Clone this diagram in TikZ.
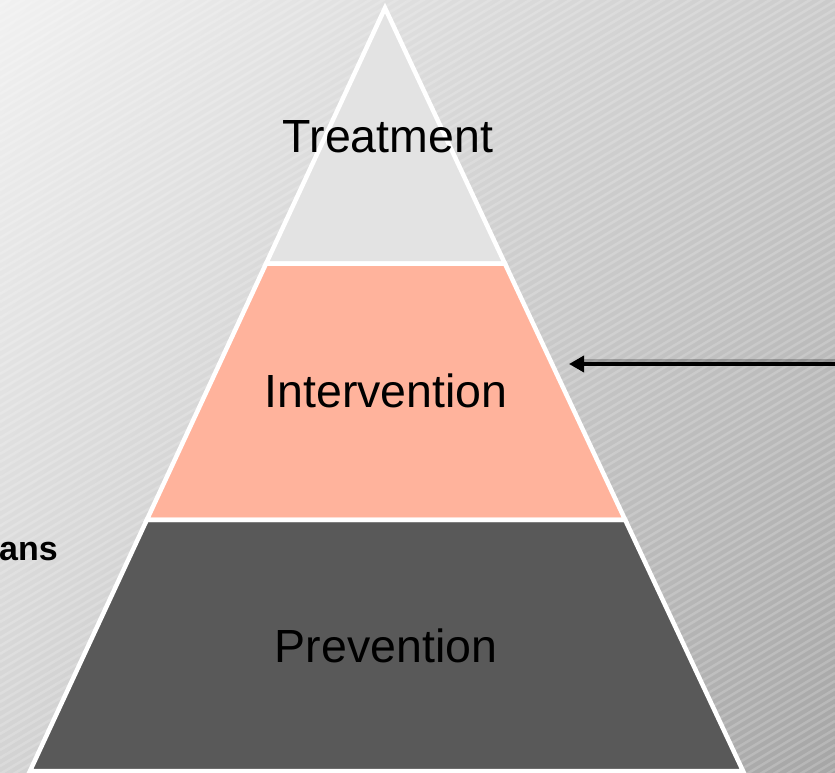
\documentclass[tikz,border=0pt]{standalone}
\usepackage{fontspec}
\setmainfont{Liberation Sans}
\usetikzlibrary{arrows.meta,shadings}
\definecolor{tiertop}{HTML}{E3E3E3}
\definecolor{tiermid}{HTML}{FFB39C}
\definecolor{tierlow}{HTML}{595959}
\definecolor{bgul}{HTML}{F1F1F1}
\definecolor{bgur}{HTML}{CBCBCB}
\definecolor{bgll}{HTML}{D3D3D3}
\definecolor{bglr}{HTML}{A6A6A6}
\tikzset{
  tier/.style={draw=white, line width=4.5pt, line join=miter},
  tierlabel/.style={font=\fontsize{46.5}{50}\selectfont, anchor=base},
  stripe/.style={white, opacity=0.18, line width=2.5pt},
  pointer/.style={black, line width=3.5pt, -{Triangle[length=15pt,width=16pt]}},
}
\begin{document}
\begin{tikzpicture}[x=1pt,y=-1pt]
\useasboundingbox (0,0) rectangle (835,773);
% background
\shade[upper left=bgul, upper right=bgur, lower left=bgll, lower right=bglr]
  (0,0) rectangle (835,773);
\begin{scope}
\clip (0,0) rectangle (835,773);
\foreach \i in {-10,-2,...,1290} \draw[stripe] (0,\i) -- (835,\i-501);
\end{scope}
% pyramid geometry: apex (385,8), base y 771 from 30 to 743
\coordinate (apex) at (385,8);
\coordinate (bl) at (30,771);
\coordinate (br) at (743,771);
\path (apex) -- (bl) coordinate[pos=0.335] (l1) coordinate[pos=0.671] (l2);
\path (apex) -- (br) coordinate[pos=0.335] (r1) coordinate[pos=0.671] (r2);
\fill[tierlow] (l2) -- (r2) -- (br) -- (bl) -- cycle;
\fill[tiermid] (l1) -- (r1) -- (r2) -- (l2) -- cycle;
\fill[tiertop] (apex) -- (r1) -- (l1) -- cycle;
\draw[tier] (l2) -- (r2) -- (br) -- (bl) -- cycle;
\draw[tier] (l1) -- (r1) -- (r2) -- (l2) -- cycle;
\draw[tier] (apex) -- (r1) -- (l1) -- cycle;
\node[tierlabel] (treat) at (388,153) {Treatment};
\node[tierlabel] (interv) at (386,407) {Intervention};
\node[tierlabel, text=black] (prev) at (386,662) {Prevention};
% left cut-off label
\node[font=\bfseries\fontsize{34}{38}\selectfont, anchor=base east, inner sep=0pt] (ans) at (58,560) {ans};
% arrow
\coordinate (arrowstart) at (845,364);
\coordinate (arrowend) at (569,364);
\draw[black, opacity=0.22, line width=4.5pt] ([yshift=2.5pt]arrowstart) -- ([xshift=14pt,yshift=2.5pt]arrowend);
\draw[pointer] (arrowstart) -- (arrowend);
\end{tikzpicture}
\end{document}
